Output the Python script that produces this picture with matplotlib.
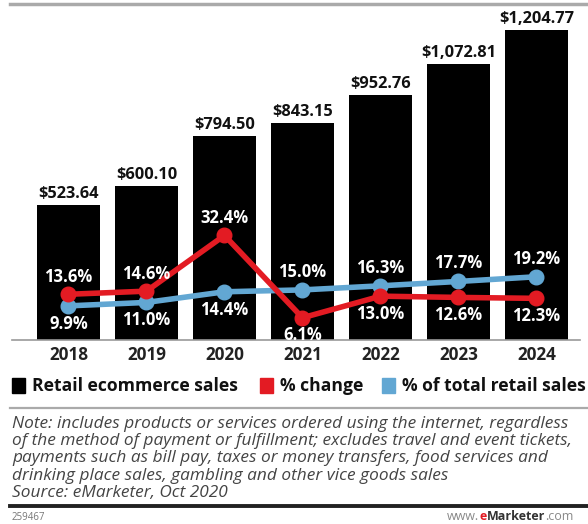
import numpy as np
import matplotlib.pyplot as plt
from matplotlib.patches import Rectangle
from matplotlib.lines import Line2D

# US retail ecommerce sales, billions
years = ['2018', '2019', '2020', '2021', '2022', '2023', '2024']
sales = [523.64, 600.10, 794.50, 843.15, 952.76, 1072.81, 1204.77]
pct_change = [13.6, 14.6, 32.4, 6.1, 13.0, 12.6, 12.3]
pct_of_total = [9.9, 11.0, 14.4, 15.0, 16.3, 17.7, 19.2]

# label placement for each line: 1 above the point, -1 below
change_side = [1, 1, 1, -1, -1, -1, -1]
total_side = [-1, -1, -1, 1, 1, 1, 1]

RED = '#e31b23'
BLUE = '#62a7d3'
W, H = 588, 524

def fx(px):
    return px / W

def fy(py):
    return 1 - py / H

fig = plt.figure(figsize=(W / 100, H / 100), dpi=100)
FAM = ['Open Sans', 'DejaVu Sans']
BOLD = {'family': FAM, 'weight': 'bold'}

# plot area: baseline at y=340px, top at 20px
ax = fig.add_axes([fx(12), fy(340), fx(568), 320 / H])
x = np.arange(len(years))
ax.bar(x, sales, width=0.81, color='black', zorder=1)
ax.set_xlim(-0.724, 6.558)
ax.set_ylim(0, 1243.7)
for xi, v in zip(x, sales):
    ax.annotate(f'${v:,.2f}', (xi, v), xytext=(0, 2), textcoords='offset points',
                ha='center', va='bottom', fontsize=11.8, color='#111', **BOLD)
for s in ['top', 'right', 'left']:
    ax.spines[s].set_visible(False)
ax.spines['bottom'].set_color('#999999')
ax.spines['bottom'].set_linewidth(1.2)
ax.set_yticks([])
ax.set_xticks(x)
ax.set_xticklabels(years, fontsize=12.3, color='#222', **BOLD)
ax.tick_params(axis='x', length=0, pad=4)
ax.patch.set_visible(False)

# percentage lines on their own scale
ax2 = ax.twinx()
ax2.set_ylim(-1, 101.2)
ax2.set_xlim(ax.get_xlim())
ax2.axis('off')
ax2.plot(x, pct_of_total, color=BLUE, lw=4, marker='o', ms=10.5, zorder=3)
ax2.plot(x, pct_change, color=RED, lw=4, marker='o', ms=10.5, zorder=4)

for xi, v, side in zip(x, pct_change, change_side):
    ax2.annotate(f'{v:.1f}%', (xi, v), xytext=(0, 12.5 * side), textcoords='offset points',
                 ha='center', va='center', fontsize=12, color='white', zorder=5, **BOLD)
for xi, v, side in zip(x, pct_of_total, total_side):
    ax2.annotate(f'{v:.1f}%', (xi, v), xytext=(0, 13 * side), textcoords='offset points',
                 ha='center', va='center', fontsize=12, color='white', zorder=5, **BOLD)

# legend
legend_items = [('Retail ecommerce sales', 'black', 12),
                ('% change', RED, 260),
                ('% of total retail sales', BLUE, 382)]
for label, col, px in legend_items:
    fig.patches.append(Rectangle((fx(px), fy(393)), fx(13), 15 / H, color=col,
                                 transform=fig.transFigure))
    fig.text(fx(px + 20), fy(386), label, ha='left', va='center', fontsize=12.6,
             color='#111', **BOLD)

# rules
fig.add_artist(Line2D([fx(10), 1], [fy(4), fy(4)], color='#aaaaaa', lw=2.5))
fig.add_artist(Line2D([fx(10), 1], [fy(408), fy(408)], color='#aaaaaa', lw=1.6))
fig.add_artist(Line2D([fx(10), 1], [fy(506), fy(506)], color='#222222', lw=2.8))

note_lines = [
    'Note: includes products or services ordered using the internet, regardless',
    'of the method of payment or fulfillment; excludes travel and event tickets,',
    'payments such as bill pay, taxes or money transfers, food services and',
    'drinking place sales, gambling and other vice goods sales',
    'Source: eMarketer, Oct 2020',
]
for i, line in enumerate(note_lines):
    fig.text(fx(12), fy(424 + 17.2 * i), line, ha='left', va='center', fontsize=12.4,
             family=FAM, style='italic', color='#444444')

fig.text(fx(12), fy(517), '259467', ha='left', va='center', fontsize=7,
         family=FAM, color='#777777')

# footer url, with the brand "e" in red; each piece chained after the previous one
parts = [('www.', '#888888', 'normal'), ('e', RED, 'bold'),
         ('Marketer', '#333333', 'bold'), ('.com', '#888888', 'normal')]
prev = fig.text(fx(447), fy(517), parts[0][0], ha='left', va='center', fontsize=9,
                family=FAM, color=parts[0][1], weight=parts[0][2])
for txt, col, wt in parts[1:]:
    prev = fig.add_artist(
        plt.Annotation(txt, xy=(1, 0.5), xycoords=prev, xytext=(0, 0),
                       textcoords='offset points', ha='left', va='center',
                       fontsize=9, family=FAM, color=col, weight=wt))

fig.savefig('out.png', dpi=100)
